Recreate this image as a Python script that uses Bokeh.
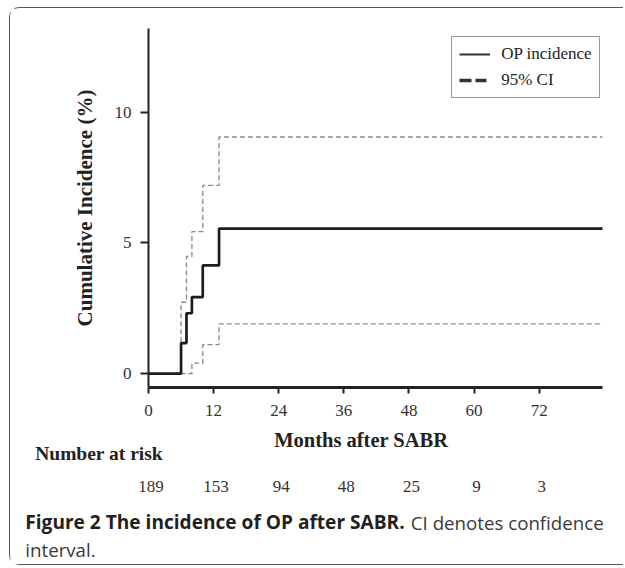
from bokeh.plotting import figure
from bokeh.models import (Label, LabelSet, ColumnDataSource, FixedTicker, Legend,
                          LegendItem, Range1d)
from bokeh.embed import file_html
from bokeh.resources import INLINE

# ---------------- data ----------------
months_main = [0, 6, 7, 8, 10, 13, 84]
incidence = [0, 1.17, 2.31, 2.93, 4.14, 5.55, 5.55]
months_upper = [0, 6, 7, 8, 10, 13, 84]
ci_upper = [0, 2.73, 4.48, 5.43, 7.20, 9.05, 9.05]
months_lower = [0, 8, 10, 13, 84]
ci_lower = [0, 0.40, 1.11, 1.90, 1.90]
x_ticks = [0, 12, 24, 36, 48, 60, 72]
y_ticks = [0, 5, 10]
risk_months = [0, 12, 24, 36, 48, 60, 72]
risk_counts = ["189", "153", "94", "48", "25", "9", "3"]

SERIF = "Liberation Serif"
SANS = "Open Sans"

# ---------------- layout constants ----------------
X_END = 83.67
Y_START, Y_END = -0.53, 13.2
W = 614
H1, H2 = 418, 140
FR_LEFT, FR_RIGHT, FR_TOP, FR_BOTTOM = 138, 592, 20, 379   # in p coords
BORDER = "1.5px solid #555555"

# ---------------- main plot ----------------
p = figure(width=W, height=H1, output_backend="svg", toolbar_location=None,
           x_range=Range1d(0, X_END), y_range=Range1d(Y_START, Y_END),
           min_border_left=FR_LEFT, min_border_right=W - FR_RIGHT,
           min_border_top=FR_TOP, min_border_bottom=H1 - FR_BOTTOM,
           styles={"margin-left": "8.5px", "margin-top": "6.5px",
                   "border-left": BORDER, "border-top": BORDER,
                   "border-top-left-radius": "10px"})
p.background_fill_color = "white"
p.border_fill_color = "white"
p.outline_line_color = None
p.grid.visible = False

for ax, ticks in ((p.xaxis[0], x_ticks), (p.yaxis[0], y_ticks)):
    ax.ticker = FixedTicker(ticks=ticks)
    ax.minor_tick_line_color = None
    ax.axis_line_color = "#222222"
    ax.major_tick_line_color = "#222222"
    ax.major_tick_line_width = 2
    ax.major_tick_in = 0
    ax.major_label_text_font = SERIF
    ax.major_label_text_font_size = "17px"
    ax.major_label_text_color = "#333333"
p.xaxis.axis_line_width = 3
p.xaxis.major_tick_out = 6
p.xaxis.major_label_standoff = 11
p.yaxis.axis_line_width = 2
p.yaxis.major_tick_out = 8
p.yaxis.major_label_standoff = 9
p.yaxis.axis_label = "Cumulative Incidence (%)"
p.yaxis.axis_label_text_font = SERIF
p.yaxis.axis_label_text_font_size = "21px"
p.yaxis.axis_label_text_font_style = "bold"
p.yaxis.axis_label_text_color = "#222222"
p.yaxis.axis_label_standoff = 15

p.step(months_upper, ci_upper, mode="after", line_color="#888888",
       line_width=1.3, line_dash="5 3")
p.step(months_lower, ci_lower, mode="after", line_color="#888888",
       line_width=1.3, line_dash="5 3")
p.step(months_main, incidence, mode="after", line_color="#1c1c1c",
       line_width=2.7)
nan = float("nan")
legend_main = p.line(x=[nan], y=[nan], line_color="#333333", line_width=2)
legend_ci = p.line(x=[nan], y=[nan], line_color="#333333", line_width=3.5,
                   line_dash="12 4 11 10")

legend = Legend(items=[LegendItem(label="OP incidence", renderers=[legend_main]),
                       LegendItem(label="95% CI", renderers=[legend_ci])],
                location=(303.7, 288.6), margin=0, padding=7, spacing=6,
                glyph_width=31, glyph_height=20, label_height=20,
                label_standoff=11, label_text_font=SERIF,
                label_text_font_size="17px", label_text_color="#222222",
                border_line_color="#333333", border_line_width=1,
                background_fill_alpha=1.0)
p.add_layout(legend, "center")

# ---------------- lower panel: axis title, numbers at risk, caption ----------------
q = figure(width=W, height=H2, output_backend="svg", toolbar_location=None,
           x_range=Range1d(0, W), y_range=Range1d(H2, 0),
           x_axis_type=None, y_axis_type=None,
           min_border_left=0, min_border_right=0, min_border_top=0,
           min_border_bottom=0,
           styles={"margin-left": "8.5px", "border-left": BORDER,
                   "border-bottom": BORDER,
                   "border-bottom-left-radius": "10px"})
q.outline_line_color = None
q.grid.visible = False
q.background_fill_color = "white"
q.border_fill_color = "white"

# month scale aligned with the main plot's frame
px_per_month = (FR_RIGHT - FR_LEFT) / X_END
q.extra_x_ranges = {"months": Range1d(-FR_LEFT / px_per_month,
                                      (W - FR_LEFT) / px_per_month)}


def lab(text, x, y, font=SERIF, size="20px", style="bold", color="#222222",
        align="left"):
    q.add_layout(Label(x=x, y=y, text=text, text_font=font, text_font_size=size,
                       text_font_style=style, text_color=color,
                       text_align=align, text_baseline="middle"))


lab("Months after SABR", 350.8, 14, size="20.5px", align="center")
lab("Number at risk", 24.7, 28, size="19.5px")
lab("Figure 2 The incidence of OP after SABR.", 14.8, 96.7, font=SANS,
    size="19.1px", color="#231f20")
lab("CI denotes confidence", 400.3, 96.7, font=SANS, size="18.7px",
    style="normal", color="#3a3a3a")
lab("interval.", 14.8, 124, font=SANS, size="18.7px", style="normal",
    color="#3a3a3a")

risk_src = ColumnDataSource(dict(x=risk_months, t=risk_counts))
q.add_layout(LabelSet(x="x", y=60.7, text="t", source=risk_src,
                      x_range_name="months", x_offset=2.5, text_font=SERIF,
                      text_font_size="17px", text_color="#333333",
                      text_align="center", text_baseline="middle"))

open("out.html", "w").write(file_html([p, q], INLINE))
